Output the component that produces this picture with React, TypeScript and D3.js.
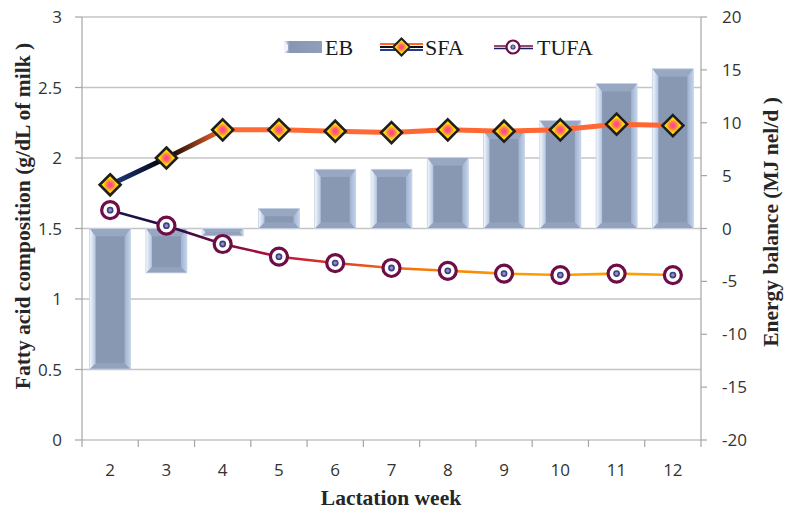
import React from "react";
import * as d3 from "d3";

const weeks = ["2", "3", "4", "5", "6", "7", "8", "9", "10", "11", "12"];
const ebValues = [-13.3, -4.2, -0.7, 1.9, 5.6, 5.6, 6.7, 9.2, 10.2, 13.7, 15.1];
const sfaValues = [1.81, 2.0, 2.2, 2.2, 2.19, 2.18, 2.2, 2.19, 2.2, 2.24, 2.23];
const tufaValues = [1.63, 1.52, 1.39, 1.3, 1.255, 1.22, 1.2, 1.18, 1.17, 1.18, 1.17];
const leftTicks = [0, 0.5, 1, 1.5, 2, 2.5, 3];
const rightTicks = [-20, -15, -10, -5, 0, 5, 10, 15, 20];
const leftTickLabels = ["0", "0.5", "1", "1.5", "2", "2.5", "3"];

const W = 792;
const H = 518;
const M = { left: 82, right: 701, top: 17, bottom: 440 };

export default function App() {
  const xc = d3.scaleBand<string>().domain(weeks).range([M.left, M.right]);
  const cx = (w: string) => (xc(w) as number) + xc.bandwidth() / 2;
  const yL = d3.scaleLinear().domain([0, 3]).range([M.bottom, M.top]);
  const yR = d3.scaleLinear().domain([-20, 20]).range([M.bottom, M.top]);
  const bw = 41;

  const line = d3
    .line<number>()
    .x((_, i) => cx(weeks[i]))
    .y((d) => yL(d));

  const tickFont = "'Open Sans', 'DejaVu Sans', sans-serif";
  const serif = "'Liberation Serif', 'Times New Roman', serif";

  const bars = weeks.map((w, i) => {
    const v = ebValues[i];
    const c = cx(w);
    const x0 = c - bw / 2;
    const x1 = c + bw / 2;
    const y0 = Math.min(yR(v), yR(0));
    const y1 = Math.max(yR(v), yR(0));
    const h = y1 - y0;
    const b = Math.min(6, h / 2, bw / 2);
    const bt = Math.min(b * 1.3, h / 2);
    const pts = (a: number[][]) => a.map((p) => p.join(",")).join(" ");
    return (
      <g key={w}>
        <rect x={x0} y={y0} width={bw} height={h} fill="#8898b3" />
        <polygon points={pts([[x0, y0], [x1, y0], [x1 - b, y0 + bt], [x0 + b, y0 + bt]])} fill="#98a8c2" />
        <polygon points={pts([[x0, y1], [x1, y1], [x1 - b, y1 - b], [x0 + b, y1 - b]])} fill="#93a3be" />
        <polygon points={pts([[x0, y0], [x0 + b, y0 + bt], [x0 + b, y1 - b], [x0, y1]])} fill="url(#leftBevel)" />
        <polygon points={pts([[x1, y0], [x1 - b, y0 + bt], [x1 - b, y1 - b], [x1, y1]])} fill="url(#rightBevel)" />
        <rect x={x0} y={y0} width={bw} height={h} fill="none" stroke="#cdd8e8" strokeWidth={0.8} />
      </g>
    );
  });

  const xs = cx(weeks[0]);
  const xe = cx(weeks[weeks.length - 1]);
  const frac = (i: number) => ((cx(weeks[i]) - xs) / (xe - xs)) * 100 + "%";

  return (
    <svg width={W} height={H} style={{ display: "block", position: "absolute", left: 0, top: 0 }}>
      <defs>
        <linearGradient id="leftBevel" x1="0" x2="1" y1="0" y2="0">
          <stop offset="0" stopColor="#f6f9fe" />
          <stop offset="1" stopColor="#b0c4df" />
        </linearGradient>
        <linearGradient id="rightBevel" x1="0" x2="1" y1="0" y2="0">
          <stop offset="0" stopColor="#9fb2cf" />
          <stop offset="1" stopColor="#c3d3ea" />
        </linearGradient>
        <linearGradient id="sfaGrad" gradientUnits="userSpaceOnUse" x1={xs} x2={xe} y1={0} y2={0}>
          <stop offset="0" stopColor="#1f3d8a" />
          <stop offset={frac(1)} stopColor="#000000" />
          <stop offset={frac(2)} stopColor="#ff6a33" />
          <stop offset="1" stopColor="#ff6633" />
        </linearGradient>
        <linearGradient id="tufaGrad" gradientUnits="userSpaceOnUse" x1={xs} x2={xe} y1={0} y2={0}>
          <stop offset="0" stopColor="#1a1a50" />
          <stop offset={frac(1)} stopColor="#200a40" />
          <stop offset={frac(3)} stopColor="#c0103a" />
          <stop offset={frac(5)} stopColor="#f06a10" />
          <stop offset={frac(7)} stopColor="#ff9a00" />
          <stop offset="1" stopColor="#ffa000" />
        </linearGradient>
        <radialGradient id="diamondFill" cx="0.5" cy="0.5" r="0.5">
          <stop offset="0" stopColor="#ff3fa0" />
          <stop offset="0.22" stopColor="#ff5a78" />
          <stop offset="0.45" stopColor="#ffa030" />
          <stop offset="0.62" stopColor="#ffdc00" />
          <stop offset="1" stopColor="#ffe000" />
        </radialGradient>
        <linearGradient id="legendEB" x1="0" x2="1" y1="0" y2="0">
          <stop offset="0" stopColor="#e8eef8" />
          <stop offset="0.15" stopColor="#8797b2" />
          <stop offset="1" stopColor="#8f9fb9" />
        </linearGradient>
      </defs>

      {/* gridlines */}
      {leftTicks.filter((t) => t > 0).map((t) => (
        <line key={t} x1={M.left} x2={M.right} y1={yL(t)} y2={yL(t)} stroke="#c4c4c4" strokeWidth={1.3} />
      ))}

      {/* bars */}
      {bars}

      {/* axes */}
      <line x1={M.left} x2={M.left} y1={M.top} y2={M.bottom} stroke="#a6a6a6" strokeWidth={1.2} />
      <line x1={M.right} x2={M.right} y1={M.top} y2={M.bottom} stroke="#a6a6a6" strokeWidth={1.2} />
      <line x1={M.left} x2={M.right} y1={M.bottom} y2={M.bottom} stroke="#a6a6a6" strokeWidth={1.2} />

      {leftTicks.map((t, i) => (
        <g key={t}>
          <line x1={M.left - 7} x2={M.left} y1={yL(t)} y2={yL(t)} stroke="#a6a6a6" strokeWidth={1.2} />
          <text x={62} y={yL(t)} dy="0.36em" textAnchor="end" fontFamily={tickFont} fontSize={17} fill="#333">
            {leftTickLabels[i]}
          </text>
        </g>
      ))}
      {rightTicks.map((t) => (
        <g key={t}>
          <line x1={M.right} x2={M.right + 6} y1={yR(t)} y2={yR(t)} stroke="#a6a6a6" strokeWidth={1.2} />
          <text x={722} y={yR(t)} dy="0.36em" textAnchor="start" fontFamily={tickFont} fontSize={17} fill="#333">
            {t}
          </text>
        </g>
      ))}
      {weeks.map((w) => (
        <line key={"xt" + w} x1={xc(w) as number} x2={xc(w) as number} y1={M.bottom} y2={M.bottom + 7} stroke="#a6a6a6" strokeWidth={1.2} />
      ))}
      <line x1={M.right} x2={M.right} y1={M.bottom} y2={M.bottom + 7} stroke="#a6a6a6" strokeWidth={1.2} />
      {weeks.map((w) => (
        <text key={"xl" + w} x={cx(w)} y={470} dy="0.36em" textAnchor="middle" fontFamily={tickFont} fontSize={17} fill="#333">
          {w}
        </text>
      ))}

      {/* lines */}
      <path d={line(tufaValues) as string} fill="none" stroke="url(#tufaGrad)" strokeWidth={2.6} />
      <path d={line(sfaValues) as string} fill="none" stroke="url(#sfaGrad)" strokeWidth={5} />

      {tufaValues.map((v, i) => (
        <g key={"tm" + i} transform={`translate(${cx(weeks[i])},${yL(v)})`}>
          <circle r={8.5} fill="#fff" stroke="#6e0d46" strokeWidth={3.2} />
          <circle r={2.6} fill="#8d8fc0" stroke="#3f3f85" strokeWidth={1.6} />
        </g>
      ))}
      {sfaValues.map((v, i) => (
        <g key={"sm" + i} transform={`translate(${cx(weeks[i])},${yL(v)})`}>
          <path d="M0,-10.5L10.5,0L0,10.5L-10.5,0Z" fill="url(#diamondFill)" stroke="#1e1e1e" strokeWidth={2.6} strokeLinejoin="miter" />
        </g>
      ))}

      {/* legend */}
      <g>
        <rect x={284} y={41} width={38} height={12} fill="url(#legendEB)" />
        <polygon points="284,41 288,45 288,50 284,53" fill="#eef3fa" />
        <text x={325} y={47} dy="0.35em" fontFamily={serif} fontSize={22} fill="#1a1a1a">EB</text>

        <line x1={380} x2={423} y1={44} y2={44} stroke="#ff6633" strokeWidth={2} />
        <line x1={380} x2={423} y1={47} y2={47} stroke="#111" strokeWidth={2} />
        <line x1={380} x2={423} y1={50} y2={50} stroke="#1f3d8a" strokeWidth={2} />
        <path d="M401.5,38.5L410,47L401.5,55.5L393,47Z" fill="url(#diamondFill)" stroke="#1e1e1e" strokeWidth={2} />
        <text x={425} y={47} dy="0.35em" fontFamily={serif} fontSize={22} fill="#1a1a1a">SFA</text>

        <line x1={494} x2={533} y1={46} y2={46} stroke="#6e0d46" strokeWidth={1.5} />
        <line x1={494} x2={533} y1={48.5} y2={48.5} stroke="#1a1a60" strokeWidth={1.5} />
        <circle cx={513} cy={47} r={6.5} fill="#fff" stroke="#6e0d46" strokeWidth={2.2} />
        <circle cx={513} cy={47} r={2} fill="#8d8fc0" stroke="#3f3f85" strokeWidth={1.2} />
        <text x={537} y={47} dy="0.35em" fontFamily={serif} fontSize={22} fill="#1a1a1a">TUFA</text>
      </g>

      {/* axis titles */}
      <text
        transform="translate(22,216) rotate(-90)"
        textAnchor="middle"
        dy="0.35em"
        fontFamily={serif}
        fontWeight="bold"
        fontSize={21.5}
        fill="#262626"
      >
        Fatty acid composition (g/dL of milk )
      </text>
      <text
        transform="translate(770,222) rotate(-90)"
        textAnchor="middle"
        dy="0.35em"
        fontFamily={serif}
        fontWeight="bold"
        fontSize={21.5}
        fill="#262626"
      >
        Energy balance (MJ nel/d )
      </text>
      <text x={391} y={497} dy="0.35em" textAnchor="middle" fontFamily={serif} fontWeight="bold" fontSize={21.5} fill="#262626">
        Lactation week
      </text>
    </svg>
  );
}
